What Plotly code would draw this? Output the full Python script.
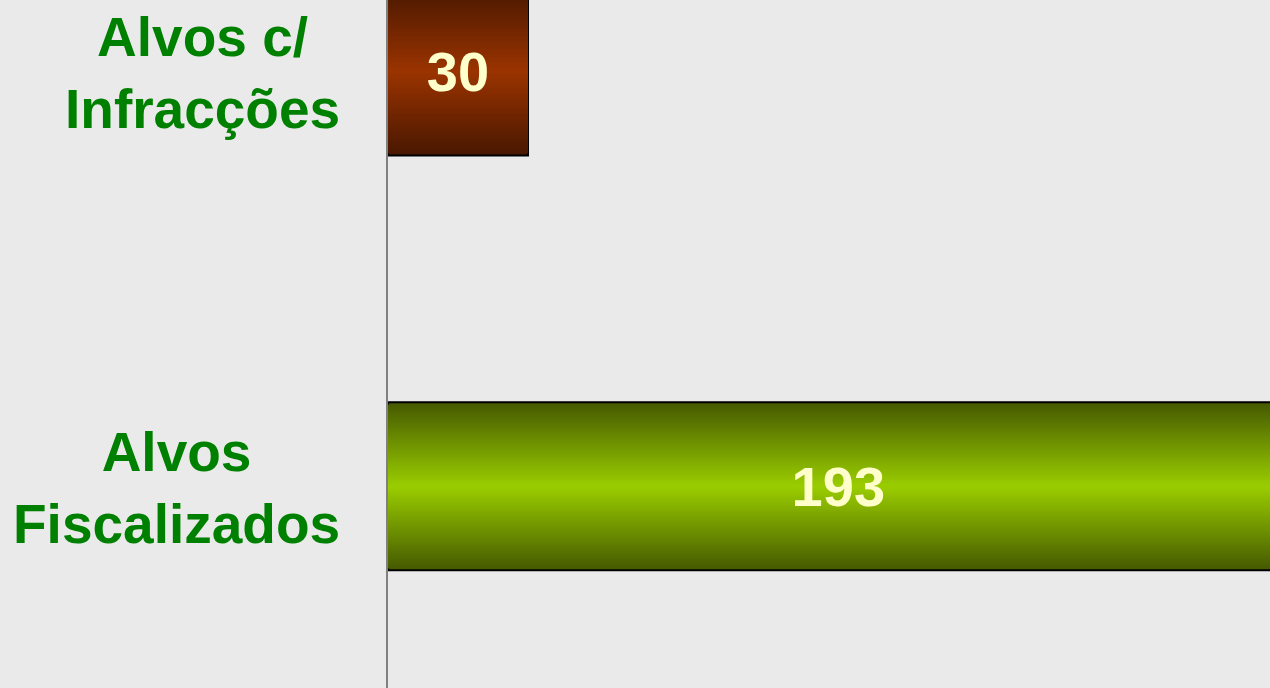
import plotly.graph_objects as go

# data
categories = ["Alvos Fiscalizados", "Alvos c/ Infracções"]
tick_text = ["Alvos<br>Fiscalizados", "Alvos c/<br>Infracções"]
values = [193, 30]
edge_colors = ["#465A00", "#4A1800"]
mid_colors = ["#99CC00", "#993300"]

BG = "#EAEAEA"
BAR_W = 0.405
STEPS = 40


def hex_rgb(h):
    h = h.lstrip("#")
    return [int(h[i:i + 2], 16) for i in (0, 2, 4)]


def mix(a, b, t):
    ca, cb = hex_rgb(a), hex_rgb(b)
    return "rgb({},{},{})".format(*[round(x + (y - x) * t) for x, y in zip(ca, cb)])


fig = go.Figure()

# vertical gradient: nested overlay bars, darkest outside, brightest in the middle
for k in range(STEPS):
    t = k / (STEPS - 1)
    fig.add_trace(go.Bar(
        y=categories, x=values, orientation="h",
        width=BAR_W * (1 - k / STEPS),
        marker=dict(color=[mix(e, m, t) for e, m in zip(edge_colors, mid_colors)],
                    line=dict(color="black", width=2 if k == 0 else 0)),
        hoverinfo="skip", showlegend=False,
    ))

# value labels on a transparent full-size bar
fig.add_trace(go.Bar(
    y=categories, x=values, orientation="h", width=BAR_W,
    marker=dict(color="rgba(0,0,0,0)", line=dict(width=0)),
    text=[str(v) for v in values], textposition="inside",
    insidetextanchor="middle", constraintext="none",
    textfont=dict(family="Arial, Liberation Sans", size=56, color="#FFFFCC", weight="bold"),
    showlegend=False,
))

# category labels, centred lines, right edge next to the axis
for cat, txt in zip(categories, tick_text):
    fig.add_annotation(
        x=0, xref="paper", y=cat, yref="y", text=txt, showarrow=False,
        xanchor="right", xshift=-46, align="center", yshift=-2,
        font=dict(family="Arial, Liberation Sans", size=55, color="#008000", weight="bold"),
    )

fig.update_layout(
    width=1270, height=688,
    margin=dict(l=388, r=0, t=0, b=0),
    paper_bgcolor=BG, plot_bgcolor=BG,
    barmode="overlay",
    xaxis=dict(range=[0, 189], visible=False, showgrid=False, zeroline=False),
    yaxis=dict(categoryorder="array", categoryarray=categories,
               range=[-0.486, 1.172], showticklabels=False, showgrid=False,
               zeroline=False, showline=True, linecolor="#808080", linewidth=2,
               ticks=""),
)

fig.write_html("out.html", config={"displayModeBar": False},
               post_script="document.body.style.margin='0';document.body.style.overflow='hidden';")
